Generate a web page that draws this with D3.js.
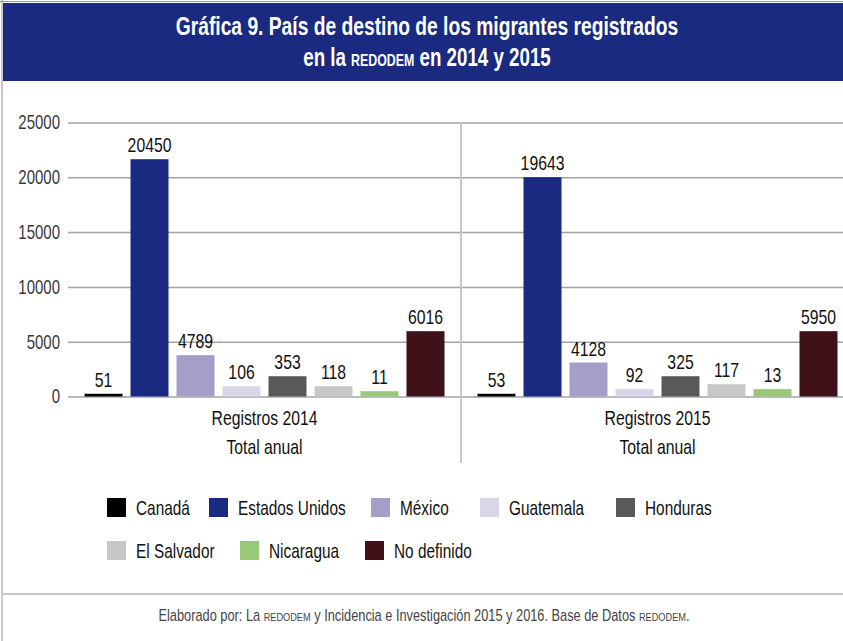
<!DOCTYPE html>
<html>
<head>
<meta charset="utf-8">
<script src="https://cdn.jsdelivr.net/npm/d3@7"></script>
<style>
  html, body { margin: 0; padding: 0; background: #fff; }
  svg { display: block; font-family: 'Liberation Sans', Arial, sans-serif; }
</style>
</head>
<body>
<svg id="canvas" width="843" height="641"></svg>
<script>
// data
const countries = ["Canadá", "Estados Unidos", "México", "Guatemala", "Honduras", "El Salvador", "Nicaragua", "No definido"];
const groups = ["Registros 2014", "Registros 2015"];
const labels2014 = [51, 20450, 4789, 106, 353, 118, 11, 6016];
const labels2015 = [53, 19643, 4128, 92, 325, 117, 13, 5950];
// the source draws its bars at these heights, not at the printed values
const bars2014 = [250, 21650, 3770, 940, 1850, 940, 480, 5960];
const bars2015 = [250, 20010, 3100, 670, 1850, 1120, 670, 5960];
const yTicks = [0, 5000, 10000, 15000, 20000, 25000];

const colors = ["#000000", "#192a80", "#a59ec8", "#d9d6ea", "#59595b", "#c6c7c9", "#99c878", "#3f1118"];

const width = 843;
const height = 641;
const blue = "#192a80";
const sx = 0.75; // no condensed font installed, so squeeze the text

// move x/y into a transform so the glyphs can be narrowed
const squeeze = (sel, k = sx) => sel.each(function() {
  const t = d3.select(this);
  const x = +t.attr("x") || 0, yy = +t.attr("y") || 0;
  t.attr("x", null).attr("y", null)
   .attr("transform", `translate(${x},${yy}) scale(${k},1)`);
});

const svg = d3.select("svg#canvas");

const rows = groups.map((g, i) => ({
  group: g,
  bars: i === 0 ? bars2014 : bars2015,
  labels: i === 0 ? labels2014 : labels2015
}));

const x0 = d3.scaleBand()
    .domain(groups)
    .range([68, 854]);

const x1 = d3.scaleBand()
    .domain(countries)
    .range([16.5, x0.bandwidth() - 16.5])
    .paddingInner(8 / 46);

const y = d3.scaleLinear()
    .domain([0, 25000])
    .range([396.5, 122.5]);

const color = d3.scaleOrdinal(countries, colors);

// frame
svg.append("line")
    .attr("x1", 2).attr("x2", 2).attr("y1", 0).attr("y2", height)
    .attr("stroke", "#c8c8c8").attr("stroke-width", 2);
svg.append("line")
    .attr("x1", 0).attr("x2", width).attr("y1", 1.5).attr("y2", 1.5)
    .attr("stroke", "#8a93b8").attr("stroke-width", 1);

// title banner
svg.append("rect")
    .attr("x", 3).attr("y", 3)
    .attr("width", width - 3).attr("height", 78)
    .attr("fill", blue);

const title = svg.append("g")
    .attr("fill", "#fff")
    .attr("font-weight", "bold")
    .attr("font-size", 25)
    .attr("text-anchor", "middle");

title.append("text")
    .attr("x", 427).attr("y", 35)
    .text("Gráfica 9. País de destino de los migrantes registrados")
    .call(squeeze, 0.77);

const t2 = title.append("text")
    .attr("x", 427).attr("y", 66);
t2.append("tspan").text("en la ");
t2.append("tspan").attr("font-size", 16.5).text("REDODEM");
t2.append("tspan").text(" en 2014 y 2015");
t2.call(squeeze, 0.75);

// y grid + labels
svg.append("g")
    .attr("transform", "translate(68,0)")
    .call(d3.axisLeft(y).tickValues(yTicks).tickFormat(d3.format("d")).tickSize(-(width - 68)).tickPadding(8))
    .call(g => g.select(".domain").remove())
    .call(g => g.selectAll(".tick line").attr("stroke", "#a3a3a3").attr("stroke-width", 1.5))
    .call(g => g.selectAll(".tick text")
        .attr("fill", "#3a3a3a")
        .attr("font-size", 20)
        .attr("font-family", "'Liberation Sans', Arial, sans-serif")
        .call(squeeze));

// separator between groups
svg.append("line")
    .attr("x1", x0(groups[1])).attr("x2", x0(groups[1]))
    .attr("y1", 122).attr("y2", 463)
    .attr("stroke", "#c8c8c8").attr("stroke-width", 2);

const group = svg.append("g")
  .selectAll("g")
  .data(rows)
  .join("g")
    .attr("transform", d => `translate(${x0(d.group)},0)`);

const cells = group.selectAll("g")
  .data(d => countries.map((c, i) => ({ country: c, bar: d.bars[i], label: d.labels[i] })))
  .join("g");

cells.append("rect")
    .attr("x", d => x1(d.country))
    .attr("y", d => y(d.bar))
    .attr("width", x1.bandwidth())
    .attr("height", d => y(0) - y(d.bar))
    .attr("fill", d => color(d.country));

cells.append("text")
    .attr("x", d => x1(d.country) + x1.bandwidth() / 2)
    .attr("y", d => y(d.bar) - 7)
    .attr("text-anchor", "middle")
    .attr("font-size", 21)
    .attr("fill", "#111")
    .text(d => d.label)
    .call(squeeze);

// group labels
group.append("text")
    .attr("x", x0.bandwidth() / 2)
    .attr("y", 425)
    .attr("text-anchor", "middle")
    .attr("font-size", 21)
    .attr("fill", "#111")
    .text(d => d.group)
    .call(squeeze);

group.append("text")
    .attr("x", x0.bandwidth() / 2)
    .attr("y", 454)
    .attr("text-anchor", "middle")
    .attr("font-size", 21)
    .attr("fill", "#111")
    .text("Total anual")
    .call(squeeze);

// legend
const legendPos = [[107, 498], [209, 498], [371, 498], [480, 498], [616, 498],
                   [107, 541], [240, 541], [365, 541]];

const legend = svg.append("g")
  .selectAll("g")
  .data(countries)
  .join("g")
    .attr("transform", (d, i) => `translate(${legendPos[i][0]},${legendPos[i][1]})`);

legend.append("rect")
    .attr("width", 19)
    .attr("height", 19)
    .attr("fill", d => color(d));

legend.append("text")
    .attr("x", 29)
    .attr("y", 17)
    .attr("font-size", 20.5)
    .attr("fill", "#111")
    .text(d => d)
    .call(squeeze);

// footer
svg.append("line")
    .attr("x1", 3).attr("x2", width).attr("y1", 594).attr("y2", 594)
    .attr("stroke", "#c8c8c8").attr("stroke-width", 2);

const foot = svg.append("text")
    .attr("x", 424).attr("y", 621)
    .attr("text-anchor", "middle")
    .attr("font-size", 16)
    .attr("fill", "#444");
foot.append("tspan").text("Elaborado por: La ");
foot.append("tspan").attr("font-size", 11.5).text("REDODEM");
foot.append("tspan").text(" y  Incidencia e Investigación 2015 y 2016. Base de Datos ");
foot.append("tspan").attr("font-size", 11.5).text("REDODEM");
foot.append("tspan").text(".");
foot.call(squeeze, 0.8);
</script>
</body>
</html>
